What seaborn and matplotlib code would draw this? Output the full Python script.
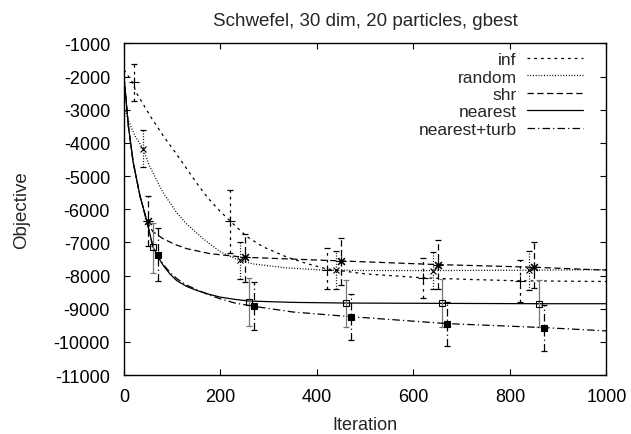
import matplotlib
matplotlib.use("Agg")
import matplotlib.pyplot as plt
from matplotlib.lines import Line2D
import seaborn as sns
import pandas as pd

# ---- data ----
inf_x = [0, 17, 26, 57, 81, 106, 130, 154, 175, 199, 227, 254, 289, 337, 379, 420, 500, 620, 720, 820, 1000]
inf_y = [-1800, -2160, -2500, -3250, -3780, -4280, -4780, -5280, -5680, -6060, -6450, -6820, -7140, -7440, -7640, -7800, -7950, -8070, -8120, -8160, -8180]

random_x = [0, 10, 23, 40, 53, 81, 109, 130, 165, 199, 238, 268, 337, 406, 500, 640, 840, 1000]
random_y = [-2950, -3350, -3800, -4190, -4700, -5500, -6100, -6450, -6900, -7280, -7540, -7650, -7770, -7830, -7850, -7850, -7840, -7820]

shr_x = [0, 9, 19, 33, 47, 60, 81, 105, 130, 178, 250, 450, 650, 850, 1000]
shr_y = [-2000, -3480, -4580, -5590, -6360, -6680, -6890, -7060, -7190, -7340, -7450, -7560, -7670, -7750, -7840]

nearest_x = [0, 9, 19, 33, 47, 60, 70, 81, 95, 109, 130, 151, 175, 199, 230, 260, 350, 460, 660, 860, 1000]
nearest_y = [-2000, -3480, -4580, -5590, -6340, -7140, -7420, -7690, -7950, -8150, -8330, -8450, -8560, -8650, -8720, -8770, -8810, -8830, -8840, -8850, -8850]

turb_x = [0, 9, 19, 33, 47, 60, 68, 81, 95, 109, 130, 151, 175, 199, 230, 270, 350, 470, 670, 870, 1000]
turb_y = [-2000, -3480, -4580, -5590, -6340, -7120, -7370, -7660, -7900, -8090, -8290, -8430, -8580, -8700, -8830, -8930, -9100, -9240, -9450, -9570, -9670]

inf_mx = [20, 220, 420, 620, 820]
inf_my = [-2160, -6370, -7820, -8070, -8160]
inf_lo = [-2730, -7320, -8420, -8670, -8790]
inf_hi = [-1620, -5420, -7160, -7460, -7520]

random_mx = [40, 240, 440, 640, 840]
random_my = [-4190, -7540, -7830, -7850, -7830]
random_lo = [-4740, -8100, -8420, -8420, -8440]
random_hi = [-3600, -7000, -7260, -7280, -7260]

shr_mx = [50, 250, 450, 650, 850]
shr_my = [-6360, -7440, -7560, -7670, -7740]
shr_lo = [-7100, -8200, -8280, -8420, -8390]
shr_hi = [-5600, -6750, -6860, -6940, -6990]

nearest_mx = [60, 260, 460, 660, 860]
nearest_my = [-7140, -8790, -8820, -8840, -8850]
nearest_lo = [-7920, -9510, -9540, -9540, -9540]
nearest_hi = [-6420, -8070, -8120, -8100, -8120]

turb_mx = [70, 270, 470, 670, 870]
turb_my = [-7370, -8930, -9240, -9450, -9570]
turb_lo = [-8160, -9650, -9940, -10120, -10270]
turb_hi = [-6570, -8210, -8550, -8790, -8900]

labels = ["inf", "random", "shr", "nearest", "nearest+turb"]
x_ticks = [0, 200, 400, 600, 800, 1000]
y_ticks = list(range(-11000, 0, 1000))

# ---- style ----
sns.set_style("ticks")
plt.rcParams["font.family"] = ["Liberation Sans", "DejaVu Sans"]
plt.rcParams["axes.unicode_minus"] = False

fig = plt.figure(figsize=(6.31, 4.35), dpi=100)
ax = fig.add_axes([0.1965, 0.1356, 0.7645, 0.7624])

series = [
    ("inf", inf_x, inf_y, inf_mx, inf_my, inf_lo, inf_hi, (0, (2.2, 3.2)), "+", "k", "black", 7),
    ("random", random_x, random_y, random_mx, random_my, random_lo, random_hi, (0, (0.8, 1.4)), "x", "k", "black", 5),
    ("shr", shr_x, shr_y, shr_mx, shr_my, shr_lo, shr_hi, (0, (5, 2.8)), (8, 2, 0), "k", "black", 7),
    ("nearest", nearest_x, nearest_y, nearest_mx, nearest_my, nearest_lo, nearest_hi, "-", "s", "none", "#777777", 5),
    ("nearest+turb", turb_x, turb_y, turb_mx, turb_my, turb_lo, turb_hi, (0, (6, 2.5, 1, 2.5)), "s", "k", "black", 5),
]

handles = []
for name, xs, ys, mx, my, lo, hi, ls, mk, mfc, ecol, ms in series:
    df = pd.DataFrame({"Iteration": xs, "Objective": ys})
    sns.lineplot(data=df, x="Iteration", y="Objective", ax=ax, color="black",
                 linewidth=0.9, linestyle=ls, estimator=None, sort=False)
    yerr = [[m - l for m, l in zip(my, lo)], [h - m for m, h in zip(my, hi)]]
    eb = ax.errorbar(mx, my, yerr=yerr, fmt="none", ecolor=ecol, elinewidth=0.9,
                     capsize=2.3, capthick=0.9)
    eb[2][0].set_linestyle(ls)
    ax.plot(mx, my, linestyle="none", marker=mk, markersize=ms, markerfacecolor=mfc,
            markeredgecolor="black", markeredgewidth=0.8, color="black")
    handles.append(Line2D([], [], color="black", linewidth=0.9, linestyle=ls))

ax.set_xlim(0, 1000)
ax.set_ylim(-11000, -1000)
ax.set_xticks(x_ticks)
ax.set_yticks(y_ticks)
ax.tick_params(direction="in", length=4.5, width=0.8, top=True, right=True,
               labelsize=13, colors="black")
ax.tick_params(axis="x", pad=9)
ax.tick_params(axis="y", pad=10)
for s in ax.spines.values():
    s.set_visible(True)
    s.set_linewidth(1.0)
    s.set_color("black")

ax.set_xlabel("Iteration", fontsize=13, labelpad=8)
ax.set_ylabel("Objective", fontsize=13.5, labelpad=17)
ax.set_title("Schwefel, 30 dim, 20 particles, gbest", fontsize=13.5, pad=13)

leg = ax.legend(handles, labels, loc="upper right", frameon=False, markerfirst=False,
                fontsize=12.5, handlelength=3.2, handletextpad=0.63, labelspacing=0.13,
                borderaxespad=0, borderpad=0.4, bbox_to_anchor=(0.966, 0.995))

fig.savefig("out.png", dpi=100)
